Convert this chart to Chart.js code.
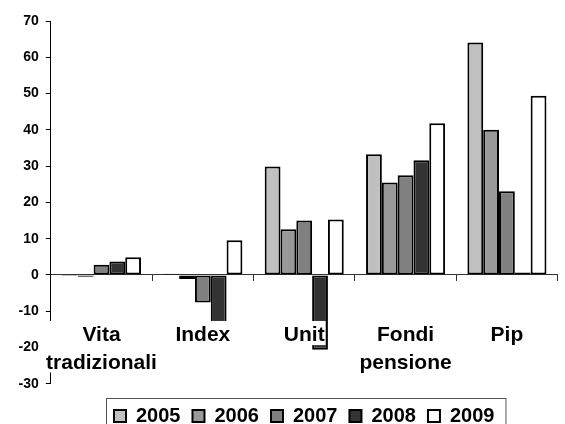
<!DOCTYPE html>
<html>
<head>
<meta charset="utf-8">
<script src="https://cdn.jsdelivr.net/npm/chart.js@4/dist/chart.umd.min.js"></script>
<style>
  html, body { margin: 0; padding: 0; background: #fff; }
  #wrap { width: 565px; height: 424px; position: relative; }
</style>
</head>
<body>
<div id="wrap"><canvas id="chart"></canvas></div>
<script>
// dati
const categories = [['Vita', 'tradizionali'], 'Index', 'Unit', ['Fondi', 'pensione'], 'Pip'];
const years = ['2005', '2006', '2007', '2008', '2009'];
const values2005 = [-0.3, 0.3, 29.9, 33.3, 64.1];
const values2006 = [-0.5, -1.1, 12.6, 25.5, 40.0];
const values2007 = [2.8, -7.6, 15.0, 27.5, 23.1];
const values2008 = [3.7, -14, -20.6, 31.6, 0.7];
const values2009 = [4.9, 9.6, 15.3, 41.8, 49.4];
const yTicks = [-30, -20, -10, 0, 10, 20, 30, 40, 50, 60, 70];

const seriesValues = [values2005, values2006, values2007, values2008, values2009];
const fills = ['#c0c0c0', '#999999', '#808080', '#333333', '#ffffff'];
const FONT = 'Arial, "Liberation Sans", sans-serif';

// etichette categoria
const X_TICK_LEN = 6;
const X_LABEL_PAD = 41;
const X_FONT_SIZE = 21;
const X_LINE_H = 1.3;

// sfondo bianco dietro le etichette (coprono le barre come in Excel)
const labelBackdrop = {
    id: 'labelBackdrop',
    afterDatasetsDraw(chart) {
        const xs = chart.scales.x;
        const ys = chart.scales.y;
        const ctx = chart.ctx;
        const top = ys.getPixelForValue(0) + X_TICK_LEN + X_LABEL_PAD - 1;
        const lineH = X_FONT_SIZE * X_LINE_H;
        ctx.save();
        ctx.font = `bold ${X_FONT_SIZE}px ${FONT}`;
        ctx.fillStyle = '#fff';
        categories.forEach((lab, i) => {
            const lines = [].concat(lab);
            const w = Math.max(...lines.map(l => ctx.measureText(l).width));
            const x = xs.getPixelForTick(i);
            const h = (lines.length - 1) * lineH + X_FONT_SIZE * 1.15;
            ctx.fillRect(x - w / 2 - 1, top, w + 2, h);
        });
        ctx.restore();
    }
};

// bordo della legenda
const legendBorder = {
    id: 'legendBorder',
    afterDraw(chart) {
        const boxes = chart.legend?.legendHitBoxes;
        if (!boxes || !boxes.length) return;
        const left = Math.min(...boxes.map(b => b.left)) - 8;
        const right = Math.max(...boxes.map(b => b.left + b.width)) + 11;
        const mid = boxes[0].top + boxes[0].height / 2;
        const ctx = chart.ctx;
        ctx.save();
        ctx.strokeStyle = '#555';
        ctx.lineWidth = 1;
        ctx.strokeRect(Math.round(left) + 0.5, Math.round(mid - 18) + 0.5, right - left, 36);
        ctx.restore();
    }
};

new Chart(document.getElementById('chart'), {
    type: 'bar',
    data: {
        labels: categories,
        datasets: years.map((year, i) => ({
            label: year,
            data: seriesValues[i],
            backgroundColor: fills[i],
            borderColor: '#000',
            borderWidth: 2,
            borderSkipped: false,
            categoryPercentage: 0.78,
            barPercentage: 1.0
        }))
    },
    options: {
        responsive: true,
        maintainAspectRatio: false,
        animation: false,
        layout: { padding: { top: 21, left: 9, right: 0, bottom: -12 } },
        scales: {
            x: {
                axis: 'x',
                position: { y: 0 },
                offset: true,
                grid: {
                    offset: true,
                    drawOnChartArea: false,
                    drawTicks: true,
                    tickLength: X_TICK_LEN,
                    color: '#333'
                },
                border: { display: true, color: '#333', width: 1 },
                ticks: {
                    z: 1,
                    color: '#000',
                    padding: X_LABEL_PAD,
                    maxRotation: 0,
                    autoSkip: false,
                    font: { family: FONT, size: X_FONT_SIZE, weight: 'bold', lineHeight: X_LINE_H }
                }
            },
            y: {
                min: -30,
                max: 70,
                afterBuildTicks: (scale) => { scale.ticks = yTicks.map(v => ({ value: v })); },
                grid: {
                    drawOnChartArea: false,
                    drawTicks: true,
                    tickLength: 5,
                    color: '#000'
                },
                border: { display: true, color: '#000', width: 1 },
                ticks: {
                    color: '#000',
                    padding: 7,
                    font: { family: FONT, size: 14, weight: 'bold' }
                }
            }
        },
        plugins: {
            tooltip: { enabled: false },
            legend: {
                position: 'bottom',
                fullSize: false,
                title: { display: true, text: '', font: { size: 1 }, padding: { top: 9, bottom: 0 } },
                labels: {
                    color: '#000',
                    boxWidth: 12,
                    boxHeight: 12,
                    padding: 12,
                    font: { family: FONT, size: 20, weight: 'bold' }
                }
            }
        }
    },
    plugins: [labelBackdrop, legendBorder]
});
</script>
</body>
</html>
